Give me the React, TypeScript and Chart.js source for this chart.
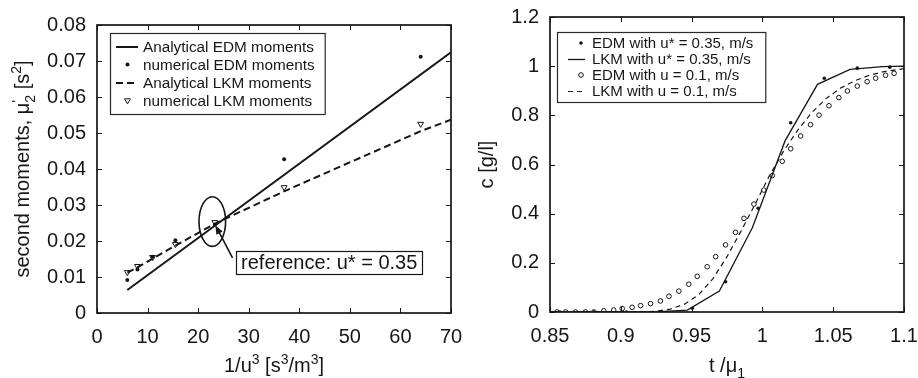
import { useEffect, useRef } from "react";
import { Chart, registerables } from "chart.js";

Chart.register(...registerables);

const FONT = "'Liberation Sans', Arial, Helvetica, sans-serif";
const INK = "#161616";

// ---------- Left panel: second moments against 1/u^3 ----------
const invU3 = [6, 8, 11, 15.5, 23.3, 37, 64];
const edmNumerical = [0.0092, 0.0121, 0.0156, 0.0202, 0.0245, 0.0427, 0.0712];
const lkmNumerical = [0.0113, 0.013, 0.0155, 0.0191, 0.0252, 0.0349, 0.0525];
const edmAnalyticalX = [6, 70];
const edmAnalytical = [0.0064, 0.0724];
const lkmAnalyticalX = [6, 8, 11, 15.5, 23.3, 37, 64, 70];
const lkmAnalytical = [0.0112, 0.0127, 0.0151, 0.0187, 0.0248, 0.0338, 0.0505, 0.0537];
const momentXTicks = [0, 10, 20, 30, 40, 50, 60, 70];
const momentXLabels = ["0", "10", "20", "30", "40", "50", "60", "70"];
const momentYTicks = [0, 0.01, 0.02, 0.03, 0.04, 0.05, 0.06, 0.07, 0.08];
const momentYLabels = ["0", "0.01", "0.02", "0.03", "0.04", "0.05", "0.06", "0.07", "0.08"];
const referenceText = "reference: u* = 0.35";

// ---------- Right panel: breakthrough curves c(t/mu1) ----------
const edmFastT = [0.857, 0.881, 0.904, 0.927, 0.9505, 0.974, 0.997, 1.02, 1.0437, 1.067, 1.09];
const edmFastC = [0, 0, 0, 0, 0.015, 0.123, 0.422, 0.77, 0.951, 0.992, 0.996];
const lkmFastT = [0.85, 0.878, 0.901, 0.924, 0.947, 0.9696, 0.9929, 1.016, 1.0389, 1.0619, 1.085, 1.1];
const lkmFastC = [0, 0, 0, 0, 0.008, 0.085, 0.343, 0.696, 0.926, 0.987, 0.998, 1.0];
const edmSlowT = [
  0.855, 0.861, 0.868, 0.875, 0.881, 0.888, 0.895, 0.901, 0.908, 0.914, 0.921, 0.928, 0.934,
  0.941, 0.948, 0.954, 0.961, 0.967, 0.974, 0.981, 0.987, 0.994, 1.001, 1.007, 1.014, 1.02,
  1.027, 1.034, 1.04, 1.047, 1.054, 1.06, 1.067, 1.074, 1.08, 1.087, 1.093,
];
const edmSlowC = [
  0, 0, 0, 0, 0, 0.005, 0.008, 0.014, 0.019, 0.026, 0.034, 0.045, 0.064, 0.085, 0.113, 0.145,
  0.184, 0.225, 0.273, 0.324, 0.381, 0.439, 0.496, 0.555, 0.613, 0.664, 0.716, 0.762, 0.801,
  0.839, 0.872, 0.899, 0.919, 0.937, 0.951, 0.963, 0.971,
];
const lkmSlowT = [
  0.85, 0.915, 0.925, 0.935, 0.945, 0.955, 0.965, 0.975, 0.985, 0.995, 1.005, 1.015, 1.025,
  1.035, 1.045, 1.055, 1.065, 1.075, 1.085, 1.1,
];
const lkmSlowC = [
  0, 0, 0.003, 0.012, 0.032, 0.07, 0.135, 0.225, 0.33, 0.44, 0.555, 0.655, 0.74, 0.812, 0.868,
  0.91, 0.94, 0.962, 0.977, 0.99,
];
const curveXTicks = [0.85, 0.9, 0.95, 1, 1.05, 1.1];
const curveXLabels = ["0.85", "0.9", "0.95", "1", "1.05", "1.1"];
const curveYTicks = [0, 0.2, 0.4, 0.6, 0.8, 1, 1.2];
const curveYLabels = ["0", "0.2", "0.4", "0.6", "0.8", "1", "1.2"];

type Seg = { t: string; shift?: number; scale?: number; noAdvance?: boolean };

const pts = (xs: number[], ys: number[]) => xs.map((x, i) => ({ x, y: ys[i] }));

function drawRich(ctx: CanvasRenderingContext2D, segs: Seg[], x: number, y: number, size: number) {
  const widths = segs.map((s) => {
    ctx.font = `${size * (s.scale ?? 1)}px ${FONT}`;
    return ctx.measureText(s.t).width;
  });
  const total = segs.reduce((acc, s, i) => acc + (s.noAdvance ? 0 : widths[i]), 0);
  let cx = x - total / 2;
  ctx.textAlign = "left";
  ctx.textBaseline = "alphabetic";
  segs.forEach((s, i) => {
    ctx.font = `${size * (s.scale ?? 1)}px ${FONT}`;
    ctx.fillText(s.t, cx, y + (s.shift ?? 0) * size);
    if (!s.noAdvance) cx += widths[i];
  });
}

function makeAxis(
  min: number,
  max: number,
  ticks: number[],
  labels: string[],
  horizontal: boolean,
  size: number
) {
  return {
    type: "linear" as const,
    min,
    max,
    grid: { display: false, drawTicks: false },
    border: { display: false },
    ticks: {
      color: INK,
      font: { family: FONT, size: 20 },
      padding: horizontal ? 12 : 11,
      autoSkip: false,
      maxRotation: 0,
      minRotation: 0,
      callback: (v: number | string) => {
        const i = ticks.findIndex((t) => Math.abs(t - Number(v)) < 1e-9);
        return i >= 0 ? labels[i] : "";
      },
    },
    afterBuildTicks: (s: any) => {
      s.ticks = ticks.map((value) => ({ value }));
    },
    afterFit: (s: any) => {
      if (horizontal) {
        s.height = size;
        s.paddingLeft = 0;
        s.paddingRight = 0;
      } else {
        s.width = size;
        s.paddingTop = 0;
        s.paddingBottom = 0;
      }
    },
  };
}

// Box frame with inward tick marks on all four sides
function framePlugin(xTicks: number[], yTicks: number[]) {
  return {
    id: "frame",
    afterDatasetsDraw(chart: any) {
      const { ctx, chartArea: a, scales } = chart;
      ctx.save();
      ctx.strokeStyle = INK;
      ctx.lineWidth = 1;
      const len = 5;
      ctx.beginPath();
      xTicks.forEach((v) => {
        const px = Math.round(scales.x.getPixelForValue(v)) + 0.5;
        ctx.moveTo(px, a.bottom);
        ctx.lineTo(px, a.bottom - len);
        ctx.moveTo(px, a.top);
        ctx.lineTo(px, a.top + len);
      });
      yTicks.forEach((v) => {
        const py = Math.round(scales.y.getPixelForValue(v)) + 0.5;
        ctx.moveTo(a.left, py);
        ctx.lineTo(a.left + len, py);
        ctx.moveTo(a.right, py);
        ctx.lineTo(a.right - len, py);
      });
      ctx.stroke();
      ctx.lineWidth = 1.7;
      ctx.strokeRect(a.left, a.top, a.right - a.left, a.bottom - a.top);
      ctx.restore();
    },
  };
}

function drawMarker(ctx: CanvasRenderingContext2D, ds: any, x: number, y: number) {
  const r = ds.pointRadius;
  ctx.save();
  ctx.lineWidth = ds.borderWidth ?? 1;
  ctx.strokeStyle = ds.pointBorderColor ?? INK;
  ctx.fillStyle = ds.pointBackgroundColor ?? INK;
  ctx.beginPath();
  if (ds.pointStyle === "triangle") {
    const h = r * 1.5;
    ctx.moveTo(x - r * 0.87, y - h / 3);
    ctx.lineTo(x + r * 0.87, y - h / 3);
    ctx.lineTo(x, y + (2 * h) / 3);
    ctx.closePath();
  } else {
    ctx.arc(x, y, r, 0, Math.PI * 2);
  }
  ctx.fill();
  if ((ds.pointBorderWidth ?? 0) > 0) {
    ctx.lineWidth = ds.pointBorderWidth;
    ctx.stroke();
  }
  ctx.restore();
}

// Legend inside the plot area, built from the dataset styles
function legendPlugin(o: {
  dx: number;
  dy: number;
  rowH: number;
  firstRow: number;
  lineFrom: number;
  lineTo: number;
  marker: number;
  text: number;
  extra: number;
  fontSize: number;
}) {
  return {
    id: "boxLegend",
    afterDraw(chart: any) {
      const { ctx, chartArea: a } = chart;
      const dsets = chart.data.datasets;
      ctx.save();
      ctx.font = `${o.fontSize}px ${FONT}`;
      const tw = Math.max(...dsets.map((d: any) => ctx.measureText(d.label).width));
      const x0 = a.left + o.dx;
      const y0 = a.top + o.dy;
      const w = o.text + tw + o.extra;
      const h = o.firstRow * 2 + o.rowH * (dsets.length - 1);
      ctx.fillStyle = "#fff";
      ctx.fillRect(x0, y0, w, h);
      ctx.strokeStyle = "#2a2a2a";
      ctx.lineWidth = 1.2;
      ctx.strokeRect(x0 + 0.5, y0 + 0.5, w, h);
      dsets.forEach((d: any, i: number) => {
        const cy = y0 + o.firstRow + i * o.rowH;
        if (d.showLine) {
          ctx.save();
          ctx.strokeStyle = d.borderColor;
          ctx.lineWidth = d.borderWidth;
          ctx.setLineDash(d.borderDash ?? []);
          ctx.beginPath();
          ctx.moveTo(x0 + o.lineFrom, cy + 0.5);
          ctx.lineTo(x0 + o.lineTo, cy + 0.5);
          ctx.stroke();
          ctx.restore();
        } else {
          drawMarker(ctx, d, x0 + o.marker, cy);
        }
        ctx.fillStyle = INK;
        ctx.font = `${o.fontSize}px ${FONT}`;
        ctx.textAlign = "left";
        ctx.textBaseline = "middle";
        ctx.fillText(d.label, x0 + o.text, cy + 1);
      });
      ctx.restore();
    },
  };
}

function titlePlugin(xTitle: Seg[], xBase: number, yTitle: Seg[], yBase: number) {
  return {
    id: "titles",
    afterDraw(chart: any) {
      const { ctx, chartArea: a } = chart;
      ctx.save();
      ctx.fillStyle = INK;
      drawRich(ctx, xTitle, (a.left + a.right) / 2, xBase, 20);
      ctx.translate(yBase, (a.top + a.bottom) / 2);
      ctx.rotate(-Math.PI / 2);
      drawRich(ctx, yTitle, 0, 0, 20);
      ctx.restore();
    },
  };
}

// Ellipse, arrow and text box marking the reference case
const referencePlugin = {
  id: "reference",
  afterDatasetsDraw(chart: any) {
    const { ctx, scales } = chart;
    const X = (v: number) => scales.x.getPixelForValue(v);
    const Y = (v: number) => scales.y.getPixelForValue(v);
    ctx.save();
    ctx.strokeStyle = INK;
    ctx.lineWidth = 1.6;
    const cx = X(22.8);
    const cy = Y(0.0254);
    ctx.beginPath();
    ctx.ellipse(cx, cy, X(22.8 + 2.63) - cx, Y(0.0254 - 0.0069) - cy, 0, 0, Math.PI * 2);
    ctx.stroke();

    const tx = X(26.8);
    const ty = Y(0.0153);
    const hx = X(23.4);
    const hy = Y(0.0244);
    const ang = Math.atan2(hy - ty, hx - tx);
    ctx.lineWidth = 1.6;
    ctx.beginPath();
    ctx.moveTo(tx, ty);
    ctx.lineTo(hx - Math.cos(ang) * 6, hy - Math.sin(ang) * 6);
    ctx.stroke();
    ctx.fillStyle = INK;
    ctx.beginPath();
    ctx.moveTo(hx, hy);
    ctx.lineTo(hx - Math.cos(ang) * 9 + Math.sin(ang) * 3.5, hy - Math.sin(ang) * 9 - Math.cos(ang) * 3.5);
    ctx.lineTo(hx - Math.cos(ang) * 9 - Math.sin(ang) * 3.5, hy - Math.sin(ang) * 9 + Math.cos(ang) * 3.5);
    ctx.closePath();
    ctx.fill();

    ctx.font = `20px ${FONT}`;
    const w = ctx.measureText(referenceText).width;
    const bx = X(27.5);
    const byc = Y(0.01403);
    const bh = 23;
    ctx.fillStyle = "#fff";
    ctx.fillRect(bx, byc - bh / 2, w + 10, bh);
    ctx.lineWidth = 1.2;
    ctx.strokeRect(Math.round(bx) + 0.5, Math.round(byc - bh / 2) + 0.5, Math.round(w + 10), bh);
    ctx.fillStyle = INK;
    ctx.textAlign = "left";
    ctx.textBaseline = "middle";
    ctx.fillText(referenceText, bx + 5, byc + 1);
    ctx.restore();
  },
};

function MomentsChart() {
  const ref = useRef<HTMLCanvasElement>(null);
  useEffect(() => {
    if (!ref.current) return;
    const chart = new Chart(ref.current, {
      type: "scatter",
      data: {
        datasets: [
          {
            label: "Analytical EDM moments",
            data: pts(edmAnalyticalX, edmAnalytical),
            showLine: true,
            borderColor: INK,
            borderWidth: 2,
            pointRadius: 0,
          },
          {
            label: "numerical EDM moments",
            data: pts(invU3, edmNumerical),
            showLine: false,
            pointStyle: "circle",
            pointRadius: 2,
            pointBackgroundColor: INK,
            pointBorderColor: INK,
            pointBorderWidth: 0,
          },
          {
            label: "Analytical LKM moments",
            data: pts(lkmAnalyticalX, lkmAnalytical),
            showLine: true,
            borderColor: INK,
            borderWidth: 2,
            borderDash: [7, 4],
            pointRadius: 0,
          },
          {
            label: "numerical LKM moments",
            data: pts(invU3, lkmNumerical),
            showLine: false,
            pointStyle: "triangle",
            rotation: 180,
            pointRadius: 3.4,
            pointBackgroundColor: "rgba(255,255,255,0)",
            pointBorderColor: INK,
            pointBorderWidth: 1,
          },
        ] as any,
      },
      options: {
        animation: false,
        responsive: false,
        events: [],
        layout: { padding: { left: 0, top: 25, right: 19, bottom: 0 } },
        plugins: { legend: { display: false }, tooltip: { enabled: false } },
        scales: {
          x: makeAxis(0, 70, momentXTicks, momentXLabels, true, 65),
          y: makeAxis(0, 0.08, momentYTicks, momentYLabels, false, 97),
        } as any,
      },
      plugins: [
        framePlugin(momentXTicks, momentYTicks),
        referencePlugin,
        legendPlugin({
          dx: 13,
          dy: 8,
          rowH: 18,
          firstRow: 13.5,
          lineFrom: 6,
          lineTo: 28,
          marker: 17.5,
          text: 33,
          extra: 10,
          fontSize: 15.3,
        }),
        titlePlugin(
          [
            { t: "1/u" },
            { t: "3", shift: -0.4, scale: 0.7 },
            { t: " [s" },
            { t: "3", shift: -0.4, scale: 0.7 },
            { t: "/m" },
            { t: "3", shift: -0.4, scale: 0.7 },
            { t: "]" },
          ],
          372,
          [
            { t: "second moments, \u03bc" },
            { t: "'", shift: -0.35, scale: 0.75, noAdvance: true },
            { t: "2", shift: 0.3, scale: 0.7 },
            { t: " [s" },
            { t: "2", shift: -0.4, scale: 0.7 },
            { t: "]" },
          ],
          29
        ),
      ],
    });
    return () => chart.destroy();
  }, []);
  return (
    <canvas
      ref={ref}
      width={470}
      height={378}
      style={{ display: "block", position: "absolute", left: 0, top: 0 }}
    />
  );
}

function BreakthroughChart() {
  const ref = useRef<HTMLCanvasElement>(null);
  useEffect(() => {
    if (!ref.current) return;
    const chart = new Chart(ref.current, {
      type: "scatter",
      data: {
        datasets: [
          {
            label: "EDM with u* = 0.35, m/s",
            data: pts(edmFastT, edmFastC),
            showLine: false,
            pointStyle: "circle",
            pointRadius: 1.8,
            pointBackgroundColor: INK,
            pointBorderColor: INK,
            pointBorderWidth: 0,
          },
          {
            label: "LKM with u* = 0.35, m/s",
            data: pts(lkmFastT, lkmFastC),
            showLine: true,
            borderColor: INK,
            borderWidth: 1.3,
            pointRadius: 0,
          },
          {
            label: "EDM with u = 0.1, m/s",
            data: pts(edmSlowT, edmSlowC),
            showLine: false,
            pointStyle: "circle",
            pointRadius: 2.3,
            pointBackgroundColor: "rgba(255,255,255,0)",
            pointBorderColor: INK,
            pointBorderWidth: 1,
          },
          {
            label: "LKM with u = 0.1, m/s",
            data: pts(lkmSlowT, lkmSlowC),
            showLine: true,
            borderColor: INK,
            borderWidth: 1.2,
            borderDash: [5, 4],
            pointRadius: 0,
          },
        ] as any,
      },
      options: {
        animation: false,
        responsive: false,
        events: [],
        layout: { padding: { left: 0, top: 17, right: 14, bottom: 0 } },
        plugins: { legend: { display: false }, tooltip: { enabled: false } },
        scales: {
          x: makeAxis(0.85, 1.1, curveXTicks, curveXLabels, true, 66),
          y: makeAxis(0, 1.2, curveYTicks, curveYLabels, false, 91),
        } as any,
      },
      plugins: [
        framePlugin(curveXTicks, curveYTicks),
        legendPlugin({
          dx: 7,
          dy: 15,
          rowH: 16,
          firstRow: 11,
          lineFrom: 11,
          lineTo: 28,
          marker: 24,
          text: 35,
          extra: 12,
          fontSize: 15,
        }),
        titlePlugin(
          [{ t: "t /\u03bc" }, { t: "1", shift: 0.3, scale: 0.7 }],
          372,
          [{ t: "c [g/l]" }],
          34
        ),
      ],
    });
    return () => chart.destroy();
  }, []);
  return (
    <canvas
      ref={ref}
      width={459}
      height={378}
      style={{ display: "block", position: "absolute", left: 459, top: 0 }}
    />
  );
}

export default function App() {
  return (
    <div
      style={{
        position: "absolute",
        left: 0,
        top: 0,
        width: 918,
        height: 378,
        background: "#fff",
      }}
    >
      <MomentsChart />
      <BreakthroughChart />
    </div>
  );
}
